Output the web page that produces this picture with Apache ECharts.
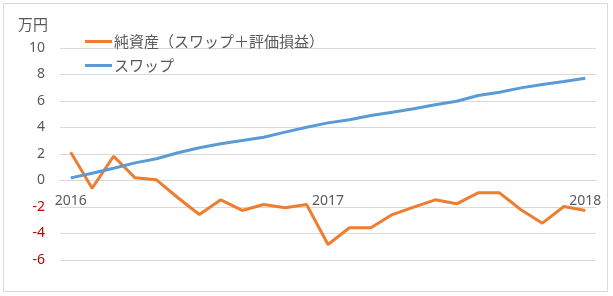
<!DOCTYPE html>
<html>
<head>
<meta charset="utf-8">
<script src="https://cdn.jsdelivr.net/npm/echarts@6/dist/echarts.min.js"></script>
<style>
html,body{margin:0;padding:0;background:#fff;}
#c{width:613px;height:296px;}
</style>
</head>
<body>
<div id="c"></div>
<script>
var categories = ['2016/01','2016/02','2016/03','2016/04','2016/05','2016/06','2016/07','2016/08','2016/09','2016/10','2016/11','2016/12',
  '2017/01','2017/02','2017/03','2017/04','2017/05','2017/06','2017/07','2017/08','2017/09','2017/10','2017/11','2017/12','2018/01'];
var netAssets = [2.14, -0.58, 1.83, 0.2, 0.05, -1.3, -2.57, -1.46, -2.26, -1.81, -2.06, -1.81,
  -4.83, -3.57, -3.57, -2.57, -2.01, -1.46, -1.76, -0.93, -0.93, -2.21, -3.22, -1.96, -2.26];
var swap = [0.2, 0.55, 0.93, 1.33, 1.64, 2.09, 2.47, 2.77, 3.02, 3.27, 3.65, 4.02,
  4.35, 4.58, 4.9, 5.15, 5.41, 5.71, 5.98, 6.41, 6.66, 6.99, 7.25, 7.47, 7.72];
var seriesNames = ['純資産（スワップ＋評価損益）', 'スワップ'];
var yTicks = [-6, -4, -2, 0, 2, 4, 6, 8, 10];
var unitLabel = '万円';

var chart = echarts.init(document.getElementById('c'), null, {renderer: 'canvas'});
var numFont = '"Noto Sans", "Noto Sans CJK JP", sans-serif';
var jpFont = '"Noto Sans CJK JP", sans-serif';
var lineIcon = 'path://M0,0 L27,0 L27,3 L0,3 Z';
chart.setOption({
  animation: false,
  backgroundColor: '#ffffff',
  graphic: [{
    type: 'rect', shape: {x: 3.5, y: 3.5, width: 604, height: 288},
    style: {fill: 'none', stroke: '#D9D9D9', lineWidth: 1}, silent: true
  }],
  legend: {
    orient: 'vertical', left: 80, top: 29, itemWidth: 27, itemHeight: 3, itemGap: 9,
    textStyle: {color: '#595959', fontSize: 15, fontFamily: jpFont, padding: [0, 0, 0, -3]},
    data: [
      {name: seriesNames[0], icon: lineIcon, itemStyle: {color: '#ED7D31'}},
      {name: seriesNames[1], icon: lineIcon, itemStyle: {color: '#5B9BD5'}}
    ]
  },
  grid: {left: 60, right: 17, top: 48, bottom: 36, containLabel: false},
  xAxis: {
    type: 'category', data: categories, boundaryGap: true, offset: 0,
    axisLine: {show: true, onZero: false, lineStyle: {color: '#D9D9D9'}},
    axisTick: {show: false},
    axisLabel: {
      interval: 11, margin: 14, color: '#595959', fontSize: 14, fontFamily: numFont,
      formatter: function (v) { return v.slice(0, 4); }
    },
    splitLine: {show: false}
  },
  yAxis: {
    type: 'value', min: yTicks[0], max: yTicks[yTicks.length - 1], interval: 2,
    name: unitLabel, nameLocation: 'end', nameGap: 16,
    nameTextStyle: {color: '#595959', fontSize: 15, fontFamily: jpFont, align: 'right', padding: [0, 12, 0, 0]},
    axisLine: {show: false}, axisTick: {show: false},
    axisLabel: {
      margin: 15, fontSize: 14, fontFamily: numFont,
      color: function (v) { return Number(v) < 0 ? '#C00000' : '#595959'; }
    },
    splitLine: {lineStyle: {color: '#D9D9D9', width: 1}}
  },
  series: [
    {name: seriesNames[0], type: 'line', data: netAssets, symbol: 'none',
      lineStyle: {color: '#ED7D31', width: 3}, itemStyle: {color: '#ED7D31'}},
    {name: seriesNames[1], type: 'line', data: swap, symbol: 'none',
      lineStyle: {color: '#5B9BD5', width: 3}, itemStyle: {color: '#5B9BD5'}}
  ]
});
// Place the category axis where the value axis crosses zero (computed through the library's scale).
var zeroPx = chart.convertToPixel({yAxisIndex: 0}, 0);
var minPx = chart.convertToPixel({yAxisIndex: 0}, yTicks[0]);
chart.setOption({xAxis: {offset: zeroPx - minPx}});
</script>
</body>
</html>
